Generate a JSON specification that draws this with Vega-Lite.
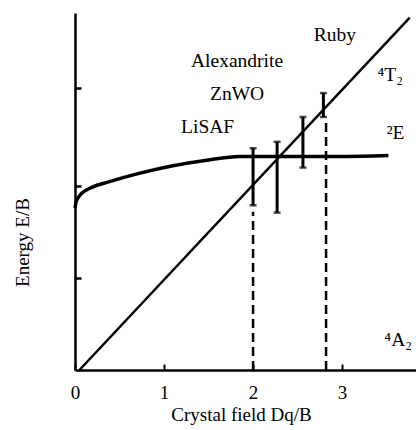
{
  "$schema": "https://vega.github.io/schema/vega-lite/v6.json",
  "autosize": "none",
  "width": 341,
  "height": 357,
  "padding": {"left": 75, "top": 13, "right": 0, "bottom": 60},
  "background": "white",
  "config": {"view": {"stroke": null}, "font": "Liberation Serif, Times New Roman, serif"},
  "datasets": {
    "curve": [
      {"x": 0, "y": 1.76}, {"x": 0.01, "y": 1.82}, {"x": 0.04, "y": 1.88},
      {"x": 0.1, "y": 1.94}, {"x": 0.2, "y": 1.99}, {"x": 0.36, "y": 2.04},
      {"x": 0.73, "y": 2.14}, {"x": 1.1, "y": 2.22}, {"x": 1.48, "y": 2.28},
      {"x": 1.85, "y": 2.32}, {"x": 2.3, "y": 2.32}, {"x": 3.0, "y": 2.32},
      {"x": 3.52, "y": 2.33}
    ],
    "diag": [{"x": 0.05, "y": 0}, {"x": 3.76, "y": 3.83}],
    "bars": [
      {"x": 2.0, "lo": 1.79, "hi": 2.41},
      {"x": 2.27, "lo": 1.71, "hi": 2.48},
      {"x": 2.56, "lo": 2.2, "hi": 2.75},
      {"x": 2.79, "lo": 2.75, "hi": 3.01}
    ],
    "dashes": [
      {"x": 2.0, "lo": 0, "hi": 1.72},
      {"x": 2.82, "lo": 0, "hi": 2.72}
    ],
    "labels": [
      {"x": 2.92, "y": 3.64, "t": "Ruby", "a": "center"},
      {"x": 1.82, "y": 3.36, "t": "Alexandrite", "a": "center"},
      {"x": 1.82, "y": 3.0, "t": "ZnWO", "a": "center"},
      {"x": 1.49, "y": 2.64, "t": "LiSAF", "a": "center"},
      {"x": 3.54, "y": 3.21, "t": "⁴T₂", "a": "left"},
      {"x": 3.6, "y": 2.58, "t": "²E", "a": "left"},
      {"x": 3.63, "y": 0.33, "t": "⁴A₂", "a": "left"}
    ]
  },
  "layer": [
    {
      "data": {"name": "diag"},
      "mark": {"type": "line", "color": "black", "strokeWidth": 2.5},
      "encoding": {
        "x": {
          "field": "x", "type": "quantitative",
          "scale": {"domain": [0, 3.83], "nice": false, "zero": false},
          "axis": {
            "title": "Crystal field Dq/B", "values": [0, 1, 2, 3], "format": "d", "grid": false,
            "domainColor": "black", "domainWidth": 2.5, "tickColor": "black", "tickWidth": 2,
            "tickSize": -6, "labelPadding": 19, "labelFontSize": 19, "labelColor": "black",
            "labelFont": "Liberation Serif, Times New Roman, serif", "labelFlush": false,
            "titleFontSize": 19, "titleFontWeight": "normal", "titleColor": "black",
            "titleFont": "Liberation Serif, Times New Roman, serif", "titleX": 166, "titleY": 35, "titleBaseline": "top"
          }
        },
        "y": {
          "field": "y", "type": "quantitative",
          "scale": {"domain": [0, 3.88], "nice": false, "zero": false},
          "axis": {
            "title": "Energy E/B", "values": [1, 2, 3.07], "labels": false, "grid": false,
            "domainColor": "black", "domainWidth": 2.5, "tickColor": "black", "tickWidth": 2.5,
            "tickSize": -6,
            "titleFontSize": 19, "titleFontWeight": "normal", "titleColor": "black",
            "titleFont": "Liberation Serif, Times New Roman, serif", "titleX": -43, "titleY": 229
          }
        }
      }
    },
    {
      "data": {"name": "curve"},
      "mark": {"type": "line", "color": "black", "strokeWidth": 3.5, "interpolate": "monotone"},
      "encoding": {
        "x": {"field": "x", "type": "quantitative"},
        "y": {"field": "y", "type": "quantitative"}
      }
    },
    {
      "data": {"name": "dashes"},
      "mark": {"type": "rule", "color": "black", "strokeWidth": 2.5, "strokeDash": [9, 5]},
      "encoding": {
        "x": {"field": "x", "type": "quantitative"},
        "y": {"field": "lo", "type": "quantitative"},
        "y2": {"field": "hi"}
      }
    },
    {
      "data": {"name": "bars"},
      "mark": {"type": "rule", "color": "black", "strokeWidth": 3},
      "encoding": {
        "x": {"field": "x", "type": "quantitative"},
        "y": {"field": "lo", "type": "quantitative"},
        "y2": {"field": "hi"}
      }
    },
    {
      "data": {"name": "bars"},
      "mark": {"type": "tick", "color": "black", "orient": "horizontal", "size": 7, "thickness": 2.5},
      "encoding": {
        "x": {"field": "x", "type": "quantitative"},
        "y": {"field": "lo", "type": "quantitative"}
      }
    },
    {
      "data": {"name": "bars"},
      "mark": {"type": "tick", "color": "black", "orient": "horizontal", "size": 7, "thickness": 2.5},
      "encoding": {
        "x": {"field": "x", "type": "quantitative"},
        "y": {"field": "hi", "type": "quantitative"}
      }
    },
    {
      "data": {"name": "labels"},
      "mark": {"type": "text", "font": "Liberation Serif, Times New Roman, serif", "fontSize": 19.5, "color": "black", "baseline": "middle"},
      "encoding": {
        "x": {"field": "x", "type": "quantitative"},
        "y": {"field": "y", "type": "quantitative"},
        "text": {"field": "t"},
        "align": {"field": "a", "type": "nominal", "scale": null}
      }
    }
  ]
}
